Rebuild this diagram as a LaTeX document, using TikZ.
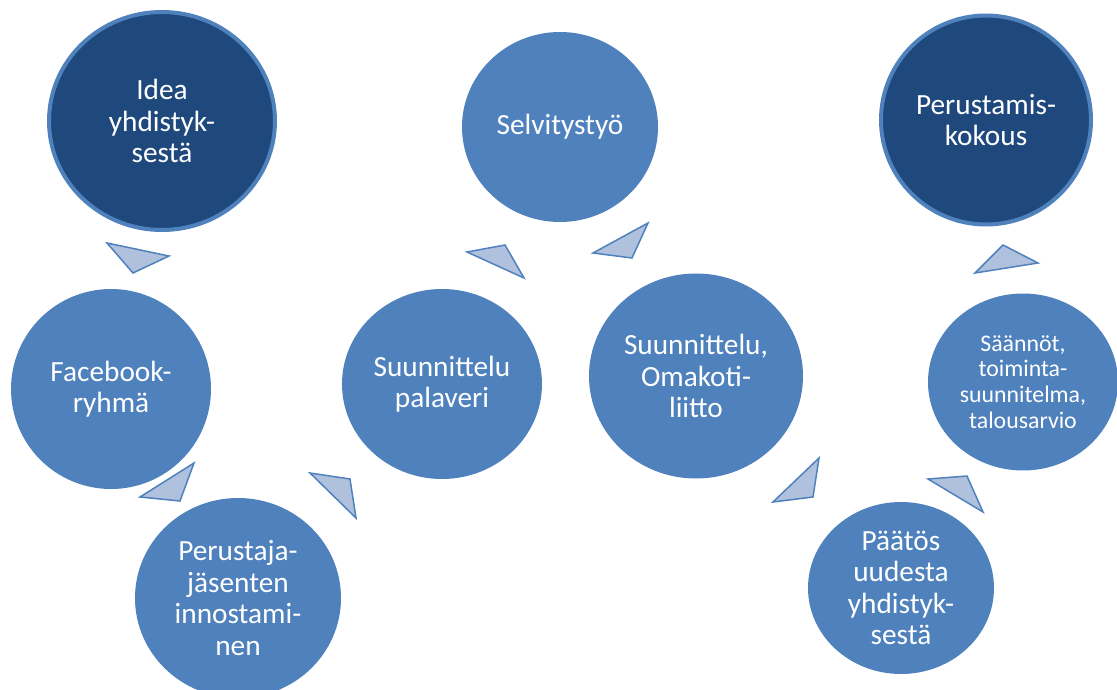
\documentclass[tikz,border=0pt]{standalone}
\usepackage{fontspec}
\setmainfont{Carlito}
\usetikzlibrary{shapes.geometric}
\definecolor{cblue}{HTML}{4F81BD}
\definecolor{cdark}{HTML}{1F497D}
\definecolor{ctri}{HTML}{B0C1DD}
\tikzset{
  bubble/.style={ellipse, fill=cblue, inner sep=0pt, text=white, align=center,
    font=\fontsize{29.4}{31.5}\selectfont},
  darkbubble/.style={bubble, fill=cdark, draw=cblue, line width=4bp},
  smalltext/.style={font=\fontsize{23.9}{25.7}\selectfont},
  tri/.style={fill=ctri, draw=cblue, line width=1.5bp, line join=miter}
}
\begin{document}
\begin{tikzpicture}[x=1bp,y=-1bp]
\useasboundingbox (0,0) rectangle (1117,690);
% circles
\node[darkbubble, minimum width=226bp, minimum height=218bp] (idea) at (162,121) {Idea\\yhdistyk-\\sestä};
\node[bubble, minimum width=200bp, minimum height=200bp] (fb) at (111,389) {Facebook-\\ryhmä};
\node[bubble, minimum width=206bp, minimum height=200bp] (perus) at (238,598) {Perustaja-\\jäsenten\\innostami-\\nen};
\node[bubble, minimum width=200bp, minimum height=190bp] (pal) at (442,384) {Suunnittelu\\palaveri};
\node[bubble, minimum width=196bp, minimum height=190bp] (selv) at (560,127) {Selvitystyö};
\node[bubble, minimum width=214bp, minimum height=205bp] (oma) at (696,376) {Suunnittelu,\\Omakoti-\\liitto};
\node[bubble, minimum width=186bp, minimum height=172bp] (paat) at (901,588) {Päätös\\uudesta\\yhdistyk-\\sestä};
\node[bubble, smalltext, minimum width=190bp, minimum height=177bp] (saan) at (1023,382) {Säännöt,\\toiminta-\\suunnitelma,\\talousarvio};
\node[darkbubble, minimum width=210bp, minimum height=209bp] (kokous) at (986,120) {Perustamis-\\kokous};
% arrows (triangles)
\draw[tri] (107,243) -- (169,256) -- (133,273) -- cycle;
\draw[tri] (140,497) -- (194,463) -- (180,501) -- cycle;
\draw[tri] (310,473) -- (350,479) -- (356,518) -- cycle;
\draw[tri] (467,252) -- (505,245) -- (524,278) -- cycle;
\draw[tri] (593,253) -- (648,223) -- (632,258) -- cycle;
\draw[tri] (773,502) -- (819,458) -- (813,497) -- cycle;
\draw[tri] (928,479) -- (967,476) -- (983,512) -- cycle;
\draw[tri] (975,273) -- (1003,245) -- (1038,263) -- cycle;
\end{tikzpicture}
\end{document}
